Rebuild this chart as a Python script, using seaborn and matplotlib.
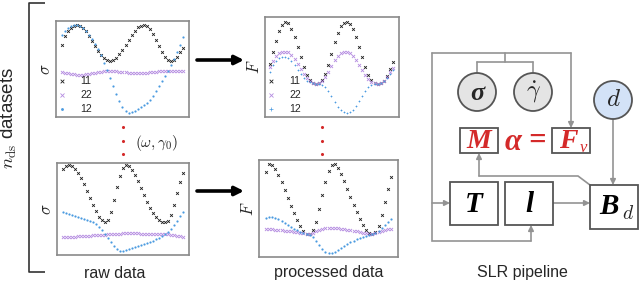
import numpy as np
import matplotlib
matplotlib.use("Agg")
import matplotlib.pyplot as plt
import seaborn as sns
from matplotlib.patches import Circle, Rectangle

sns.set_theme(style="white")
plt.rcParams["font.family"] = ["Liberation Sans", "DejaVu Sans"]
plt.rcParams["mathtext.fontset"] = "cm"

## values (height above panel bottom, in px units)
raw_top_11 = [72, 81, 86, 89, 91, 92, 91, 89, 86, 81, 76, 71, 66, 62, 59, 57, 56, 57, 59, 63, 67,
              72, 77, 82, 86, 90, 91, 92, 91, 88, 83, 77, 71, 65, 60, 57, 56, 57, 60, 65, 69]
raw_top_22 = [45, 44, 44, 43, 43, 42, 42, 42, 43, 43, 44, 44, 45, 45, 46, 46, 46, 46, 46, 45, 45,
              45, 44, 44, 44, 44, 44, 44, 44, 45, 45, 45, 46, 46, 46, 46, 46, 46, 46, 46, 46]
raw_top_12 = [82, 86, 89, 91, 92, 92, 91, 89, 86, 82, 78, 73, 68, 62, 54, 47, 39, 31, 23, 16, 10,
              6, 4, 5, 6, 8, 10, 12, 14, 17, 21, 26, 31, 36, 41, 46, 52, 58, 65, 72, 80]

raw_bot_11 = [86, 89, 90, 89, 86, 82, 77, 71, 64, 57, 50, 44, 38, 35, 33, 35, 43, 55, 68, 79, 87,
              90, 89, 85, 80, 74, 67, 60, 53, 47, 42, 38, 35, 33, 33, 34, 40, 50, 62, 73, 82]
raw_bot_22 = [18, 18, 18, 18, 18, 19, 19, 19, 19, 19, 20, 20, 20, 20, 20, 21, 21, 21, 21, 21, 22,
              22, 22, 22, 22, 22, 21, 21, 21, 21, 21, 21, 21, 21, 21, 21, 20, 20, 19, 19, 18]
raw_bot_12 = [43, 42, 41, 40, 39, 38, 37, 36, 35, 34, 33, 31, 28, 25, 21, 17, 13, 9, 6, 4, 4,
              5, 6, 7, 8, 9, 10, 11, 12, 13, 14, 16, 17, 19, 21, 23, 26, 30, 34, 39, 43]

proc_top_11 = [53, 65, 76, 86, 92, 95, 94, 88, 80, 70, 60, 50, 42, 37, 34, 33, 34, 37, 43, 52, 63,
               75, 84, 91, 94, 95, 93, 88, 80, 70, 60, 50, 42, 37, 34, 33, 34, 36, 41, 48, 55]
proc_top_22 = [50, 56, 61, 64, 65, 65, 65, 62, 58, 53, 48, 43, 39, 36, 34, 33, 34, 36, 40, 45, 51,
               57, 61, 64, 65, 65, 64, 61, 57, 52, 47, 42, 38, 35, 34, 33, 34, 36, 40, 45, 49]
proc_top_12 = [45, 52, 56, 59, 60, 60, 59, 56, 52, 47, 43, 39, 36, 35, 34, 33, 33, 32, 30, 26, 21,
               15, 10, 7, 5, 4, 5, 7, 11, 16, 21, 26, 30, 32, 33, 33, 34, 36, 39, 43, 47]

proc_bot_11 = [85, 93, 92, 88, 82, 75, 67, 59, 51, 44, 37, 31, 26, 23, 23, 27, 35, 48, 62, 75, 86,
               92, 93, 89, 83, 76, 68, 60, 52, 45, 38, 32, 27, 24, 23, 25, 31, 42, 55, 68, 80]
proc_bot_22 = [28, 28, 28, 27, 27, 27, 26, 26, 26, 25, 25, 24, 24, 23, 23, 24, 26, 27, 28, 29, 29,
               29, 29, 29, 28, 28, 27, 27, 26, 26, 25, 24, 24, 23, 23, 24, 25, 26, 27, 28, 28]
proc_bot_12 = [39, 40, 40, 39, 38, 36, 34, 32, 30, 28, 27, 25, 24, 23, 22, 20, 16, 12, 8, 5, 4,
               4, 5, 7, 9, 11, 13, 15, 16, 18, 19, 20, 21, 22, 23, 24, 26, 29, 32, 35, 38]

labels = ["11", "22", "12"]
c_11, c_22, c_12 = "#1c1c1c", "#b48be0", "#4a9ae0"
frame_col = "#8a8a8a"
line_col = "#939393"
box_col = "#555555"
red = "#d42a2a"

W, H = 640, 282
fig = plt.figure(figsize=(6.4, 2.82), dpi=100)


def px_axes(x0, y0, x1, y1):
    return fig.add_axes([x0 / W, 1 - y1 / H, (x1 - x0) / W, (y1 - y0) / H])


def panel(box, xr, series, markers, ylab, legend=False):
    ax = px_axes(*box)
    x = np.linspace(xr[0], xr[1], len(series[0]))
    for ys, (m, c, s, lw), lab in zip(series, markers, labels):
        sns.scatterplot(x=x, y=ys, ax=ax, marker=m, color=c, s=s, linewidth=lw,
                        label=lab if legend else None, legend=False)
    ax.set_xlim(0, 1)
    ax.set_ylim(0, box[3] - box[1])
    ax.set_xticks([])
    ax.set_yticks([])
    for sp in ax.spines.values():
        sp.set_color(frame_col)
        sp.set_linewidth(1.2)
    ax.set_ylabel(ylab, fontsize=12, labelpad=2)
    if legend:
        ax.legend(loc="lower left", bbox_to_anchor=(0, 0), borderaxespad=0.1, borderpad=0.2,
                  handlelength=0.6, handletextpad=1.4, labelspacing=0.4, fontsize=7.5,
                  frameon=False, markerscale=1.3)
    return ax


mk_raw = [("x", c_11, 4, 0.6), ("x", c_22, 5, 0.6), ("o", c_12, 2.5, 0)]
mk_proc = [("x", c_11, 4, 0.6), ("x", c_22, 5, 0.6), ("+", c_12, 4, 0.5)]
mk_proc_b = [("x", c_11, 4, 0.6), ("x", c_22, 5, 0.6), ("o", c_12, 2.5, 0)]

panel((56, 21, 189, 117), (0.045, 0.955), [raw_top_11, raw_top_22, raw_top_12],
      mk_raw, r"$\sigma$", legend=True)
panel((57, 163, 189, 255), (0.045, 0.955), [raw_bot_11, raw_bot_22, raw_bot_12],
      mk_raw, r"$\sigma$")
panel((265, 17, 399, 117), (0.037, 0.955), [proc_top_11, proc_top_22, proc_top_12],
      mk_proc, r"$F$", legend=True)
panel((259, 160, 398, 257), (0.05, 0.95), [proc_bot_11, proc_bot_22, proc_bot_12],
      mk_proc_b, r"$F$")

## overlay in pixel coordinates for the diagram parts
ov = fig.add_axes([0, 0, 1, 1])
ov.set_xlim(0, W)
ov.set_ylim(H, 0)
ov.axis("off")

# bracket and left label
ov.plot([45, 29, 29, 45], [3, 3, 272, 272], color="#333333", lw=1.2, solid_capstyle="butt")
ov.text(9, 118, r"$n_{\rm ds}$ datasets", rotation=90, fontsize=13.5, ha="center", va="center")

# thick arrows raw -> processed
for yy in (60, 191):
    ov.annotate("", xy=(244, yy), xytext=(197, yy),
                arrowprops=dict(arrowstyle="-|>", color="black", lw=2.6, mutation_scale=13,
                                shrinkA=0, shrinkB=0))

# red dots between panels
for xx in (123, 322):
    ov.scatter([xx] * 3, [127, 141, 154], s=1.5, color=red, zorder=5)
ov.text(157, 143, r"$(\omega, \gamma_0)$", fontsize=11, ha="center", va="center")

# captions
ov.text(115, 273, "raw data", fontsize=11.5, ha="center", va="center")
ov.text(329, 273, "processed data", fontsize=11.5, ha="center", va="center")
ov.text(522, 272, "SLR pipeline", fontsize=11.5, ha="center", va="center")


def gline(xs, ys):
    ov.plot(xs, ys, color=line_col, lw=1.2, solid_joinstyle="miter")


def garrow(p0, p1):
    ov.annotate("", xy=p1, xytext=p0,
                arrowprops=dict(arrowstyle="-|>", color=line_col, lw=1.2, mutation_scale=8,
                                shrinkA=0, shrinkB=0))


# SLR pipeline wiring
gline([432, 571], [53, 53])
garrow((571, 53), (571, 128))
gline([432, 432, 531], [53, 241, 241])
garrow((531, 241), (531, 225))
garrow((432, 203), (450, 203))
gline([505, 505], [53, 62])
gline([477, 533], [62, 62])
gline([477, 477], [62, 73])
gline([533, 533], [62, 73])
garrow((613, 119), (613, 185))
garrow((553, 203), (590, 203))
gline([590, 578, 479], [185, 176, 176])
garrow((479, 176), (479, 153))

serif = ["Liberation Serif", "DejaVu Serif"]

# circles
for cx, cy, fc in ((477, 92, "#e4e4e4"), (533, 92, "#e4e4e4"), (613, 100, "#d3e2f7")):
    ov.add_patch(Circle((cx, cy), 19, fc=fc, ec=box_col, lw=1.3, zorder=3))
ov.text(477, 93, "σ", family=serif, style="italic", weight="bold", fontsize=19,
        ha="center", va="center", zorder=4)
ov.text(533, 92, r"$\dot{\gamma}$", fontsize=17, ha="center", va="center", zorder=4)
ov.text(613, 99, r"$d$", fontsize=18, ha="center", va="center", zorder=4)

# boxes
for x0, y0, x1, y1 in ((460, 128, 498, 153), (552, 128, 590, 153), (450, 182, 498, 225),
                       (505, 182, 553, 225), (590, 185, 638, 229)):
    ov.add_patch(Rectangle((x0, y0), x1 - x0, y1 - y0, fc="white", ec=box_col, lw=1.3, zorder=3))

bi = dict(family=serif, style="italic", weight="bold", ha="center", va="center", zorder=4)
ov.text(479, 141, "M", color=red, fontsize=20, **bi)
ov.text(513, 142, "α", color=red, fontsize=22, **bi)
ov.text(537, 141, "=", color=red, fontsize=22, **bi)
ov.text(568, 141, "F", color=red, fontsize=20, **bi)
ov.text(583, 148, "v", color=red, fontsize=12, family=serif, style="italic",
        ha="center", va="center", zorder=4)
ov.text(474, 204, "T", color="black", fontsize=21, **bi)
ov.text(529, 204, "l", color="black", fontsize=21, **bi)
ov.text(609, 206, "B", color="black", fontsize=21, **bi)
ov.text(628, 214, r"$d$", fontsize=14, ha="center", va="center", zorder=4)

fig.savefig("out.png", dpi=100)
